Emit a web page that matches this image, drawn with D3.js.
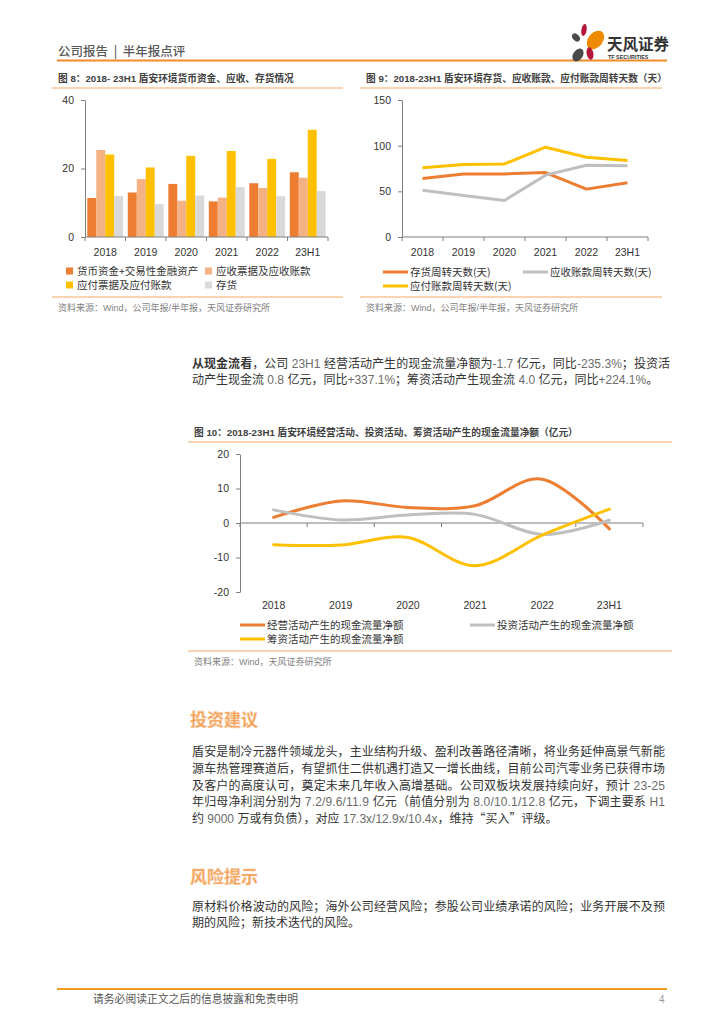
<!DOCTYPE html>
<html lang="zh">
<head>
<meta charset="UTF-8">
<title>盾安环境 半年报点评</title>
<script src="https://cdn.jsdelivr.net/npm/d3@7"></script>
<style>
  body { margin: 0; background: #fff; }
  svg { display: block; }
  text { font-family: "Liberation Sans", "Noto Sans CJK SC", sans-serif; }
  .cjk { font-family: "Noto Sans CJK SC", sans-serif; }
  .axis path, .axis line { stroke: #7f7f7f; }
  .axis text { font-family: "Liberation Sans", sans-serif; font-size: 10.5px; fill: #333; }
</style>
</head>
<body>
<script>
// ---- data ----
const years = ["2018", "2019", "2020", "2021", "2022", "23H1"];

// 图8 (亿元)
const cashFin = [11.4, 13.0, 15.5, 10.4, 15.7, 18.9];
const receivable = [25.4, 16.9, 10.6, 11.5, 14.3, 17.3];
const payable = [24.1, 20.3, 23.7, 25.1, 22.8, 31.3];
const inventory = [12.0, 9.6, 12.1, 14.6, 11.9, 13.4];
const barNames = ["货币资金+交易性金融资产", "应收票据及应收账款", "应付票据及应付账款", "存货"];
const barColors = ["#ED7D31", "#F4B183", "#FFC000", "#D9D9D9"];

// 图9 (天)
const invDays = [64.0, 69.0, 69.0, 70.6, 52.4, 59.3];
const recDays = [51.3, 45.5, 40.0, 67.7, 78.6, 78.0];
const payDays = [75.7, 79.4, 80.0, 98.3, 87.4, 83.7];
const dayNames = ["存货周转天数(天)", "应收账款周转天数(天)", "应付账款周转天数(天)"];

// 图10 (亿元)
const opCF = [1.65, 6.4, 4.5, 5.0, 12.7, -1.7];
const invCF = [3.8, 0.9, 2.3, 2.5, -3.3, 0.8];
const finCF = [-6.3, -6.4, -4.2, -12.4, -3.5, 4.0];
const cfNames = ["经营活动产生的现金流量净额", "投资活动产生的现金流量净额", "筹资活动产生的现金流量净额"];

const lineColors = ["#ED7D31", "#BFBFBF", "#FFC000"];

const para1 = [
  "从现金流看，公司 23H1 经营活动产生的现金流量净额为-1.7 亿元，同比-235.3%；投资活",
  "动产生现金流 0.8 亿元，同比+337.1%；筹资活动产生现金流 4.0 亿元，同比+224.1%。"
];
const para2 = [
  "盾安是制冷元器件领域龙头，主业结构升级、盈利改善路径清晰，将业务延伸高景气新能",
  "源车热管理赛道后，有望抓住二供机遇打造又一增长曲线，目前公司汽零业务已获得市场",
  "及客户的高度认可，奠定未来几年收入高增基础。公司双板块发展持续向好，预计 23-25",
  "年归母净利润分别为 7.2/9.6/11.9 亿元（前值分别为 8.0/10.1/12.8 亿元，下调主要系 H1",
  "约 9000 万或有负债），对应 17.3x/12.9x/10.4x，维持“买入”评级。"
];
const para3 = [
  "原材料价格波动的风险；海外公司经营风险；参股公司业绩承诺的风险；业务开展不及预",
  "期的风险；新技术迭代的风险。"
];

const svg = d3.select("body").append("svg")
  .attr("width", 724).attr("height", 1024);

// ---- page header ----
svg.append("text").attr("class", "cjk").attr("x", 58).attr("y", 56)
  .attr("font-size", 12.5).attr("fill", "#595959").attr("font-weight", 500)
  .attr("xml:space", "preserve").style("white-space", "pre")
  .text("公司报告  |  半年报点评");
svg.append("line").attr("x1", 57).attr("x2", 667).attr("y1", 60.5).attr("y2", 60.5)
  .attr("stroke", "#F28A2E").attr("stroke-width", 2);

// logo
const logo = svg.append("g");
logo.append("ellipse").attr("cx", 584).attr("cy", 30).attr("rx", 2.6).attr("ry", 6)
  .attr("fill", "#B5173B").attr("transform", "rotate(10,584,30)");
logo.append("ellipse").attr("cx", 576).attr("cy", 37.5).attr("rx", 3.2).attr("ry", 4.6)
  .attr("fill", "#4A4A4A").attr("transform", "rotate(-45,576,37.5)");
logo.append("ellipse").attr("cx", 595.5).attr("cy", 40).attr("rx", 7.2).attr("ry", 10.5)
  .attr("fill", "#F08A00").attr("transform", "rotate(40,595.5,40)");
logo.append("ellipse").attr("cx", 590).attr("cy", 53.5).attr("rx", 3.4).attr("ry", 6.4)
  .attr("fill", "#B5173B").attr("transform", "rotate(-10,590,53.5)");
logo.append("ellipse").attr("cx", 578).attr("cy", 55).attr("rx", 4.8).attr("ry", 7)
  .attr("fill", "#4A4A4A").attr("transform", "rotate(35,578,55)");
logo.append("text").attr("class", "cjk").attr("x", 607).attr("y", 50)
  .attr("font-size", 15.5).attr("font-weight", "bold").attr("fill", "#333")
  .text("天风证券");
logo.append("text").attr("x", 608).attr("y", 58.5)
  .attr("font-size", 5.4).attr("font-weight", "bold").attr("fill", "#333")
  .text("TF SECURITIES");

// ---- helpers ----
function chartFrame(x0, x1, titleY, sepY, srcSepY, title, source) {
  svg.append("text").attr("x", x0 + 6).attr("y", titleY)
    .attr("font-size", 9.7).attr("font-weight", "bold").attr("fill", "#404040")
    .text(title);
  [sepY, srcSepY].forEach(y => svg.append("line")
    .attr("x1", x0).attr("x2", x1).attr("y1", y).attr("y2", y)
    .attr("stroke", "#F6A865").attr("stroke-width", 1.2));
  svg.append("text").attr("x", x0 + 6).attr("y", srcSepY + 14)
    .attr("font-size", 9).attr("fill", "#7f7f7f").text(source);
}

function yAxis(scale, x, ticks) {
  svg.append("g").attr("class", "axis").attr("transform", `translate(${x},0)`)
    .call(d3.axisLeft(scale).tickValues(ticks).tickFormat(d => String(d))
      .tickSize(4).tickSizeOuter(0).tickPadding(7))
    .selectAll("text").attr("font-size", 10.5);
}

function xAxis(band, yLine, yLabel) {
  const r = band.range();
  const g = svg.append("g").attr("class", "axis");
  g.append("line").attr("x1", r[0]).attr("x2", r[1]).attr("y1", yLine).attr("y2", yLine);
  band.domain().map(d => band(d)).concat([r[1]]).forEach(px =>
    g.append("line").attr("x1", px).attr("x2", px).attr("y1", yLine).attr("y2", yLine + 4));
  band.domain().forEach(d =>
    g.append("text").attr("x", band(d) + band.bandwidth() / 2).attr("y", yLabel)
      .attr("text-anchor", "middle").attr("dy", "0.35em").text(d));
}

function lineLegend(items, positions) {
  items.forEach((name, i) => {
    const [x, y] = positions[i];
    svg.append("line").attr("x1", x).attr("x2", x + 25).attr("y1", y).attr("y2", y)
      .attr("stroke", lineColors[i]).attr("stroke-width", 3);
    svg.append("text").attr("class", "cjk").attr("x", x + 27).attr("y", y).attr("dy", "0.35em")
      .attr("font-size", 10.5).attr("fill", "#333").text(name);
  });
}

// ---- 图8 ----
chartFrame(52, 343, 82, 88, 297,
  "图 8：2018- 23H1 盾安环境货币资金、应收、存货情况",
  "资料来源：Wind，公司年报/半年报，天风证券研究所");

const x8 = d3.scaleBand().domain(years).range([85, 328]);
const x8sub = d3.scaleBand().domain(d3.range(4)).range([2.3, x8.bandwidth() - 2.3]);
const y8 = d3.scaleLinear().domain([0, 40]).range([237, 100]);
const barSeries = [cashFin, receivable, payable, inventory];

barSeries.forEach((vals, k) => {
  svg.append("g").selectAll("rect").data(vals).join("rect")
    .attr("x", (d, i) => x8(years[i]) + x8sub(k))
    .attr("width", x8sub.bandwidth())
    .attr("y", d => y8(d))
    .attr("height", d => y8(0) - y8(d))
    .attr("fill", barColors[k]);
});
yAxis(y8, 85, [0, 20, 40]);
xAxis(x8, 237, 252);

[[66, 271], [205, 271], [66, 285], [205, 285]].forEach(([x, y], i) => {
  svg.append("rect").attr("x", x).attr("y", y - 3.5).attr("width", 7).attr("height", 7)
    .attr("fill", barColors[i]);
  svg.append("text").attr("class", "cjk").attr("x", x + 11).attr("y", y).attr("dy", "0.35em")
    .attr("font-size", 10.5).attr("fill", "#333").text(barNames[i]);
});

// ---- 图9 ----
chartFrame(360, 662, 82, 88, 297,
  "图 9：2018-23H1 盾安环境存货、应收账款、应付账款周转天数（天）",
  "资料来源：Wind，公司年报/半年报，天风证券研究所");

const x9 = d3.scaleBand().domain(years).range([402, 648]);
const y9 = d3.scaleLinear().domain([0, 150]).range([237, 100]);
const line9 = d3.line()
  .x((d, i) => x9(years[i]) + x9.bandwidth() / 2)
  .y(d => y9(d));
[invDays, recDays, payDays].forEach((vals, k) => {
  svg.append("path").attr("d", line9(vals)).attr("fill", "none")
    .attr("stroke", lineColors[k]).attr("stroke-width", 3).attr("stroke-linejoin", "round");
});
yAxis(y9, 402, [0, 50, 100, 150]);
xAxis(x9, 237, 252);
lineLegend(dayNames, [[383, 272], [523, 272], [383, 286]]);

// ---- 正文 ----
function para(lines, x, y0, dy, right, boldLead) {
  lines.forEach((ln, i) => {
    const t = svg.append("text").attr("class", "cjk").attr("x", x).attr("y", y0 + i * dy)
      .attr("dy", "0.35em").attr("font-size", 12).attr("fill", "#333");
    let rest = ln;
    if (i === 0 && boldLead) {
      t.append("tspan").attr("font-weight", "bold").text(boldLead);
      rest = ln.slice(boldLead.length);
    }
    rest.split(/([\x20-\x7e]+)/).filter(s => s.length).forEach(s => {
      const sp = t.append("tspan").text(s);
      if (/^[\x20-\x7e]+$/.test(s)) sp.attr("fill", "#6b6b6b").style("font-family", "'Liberation Sans', sans-serif");
    });
    if (i < lines.length - 1) {
      const w = t.node().getComputedTextLength();
      const n = ln.length;
      t.attr("letter-spacing", ((right - x) - w) / (n - 1));
    }
  });
}

para(para1, 192, 364, 15.5, 670, "从现金流看");

// ---- 图10 ----
chartFrame(188, 672, 436, 442, 651,
  "图 10：2018-23H1 盾安环境经营活动、投资活动、筹资活动产生的现金流量净额（亿元）",
  "资料来源：Wind，天风证券研究所");

const x10 = d3.scaleBand().domain(years).range([240, 643]);
const y10 = d3.scaleLinear().domain([-20, 20]).range([592, 454]);
yAxis(y10, 240, [-20, -10, 0, 10, 20]);
xAxis(x10, y10(0), 605);
const line10 = d3.line()
  .x((d, i) => x10(years[i]) + x10.bandwidth() / 2)
  .y(d => y10(d))
  .curve(d3.curveCardinal.tension(0));
[opCF, invCF, finCF].forEach((vals, k) => {
  svg.append("path").attr("d", line10(vals)).attr("fill", "none")
    .attr("stroke", lineColors[k]).attr("stroke-width", 3).attr("stroke-linecap", "round");
});
lineLegend(cfNames, [[240, 625], [470, 625], [240, 639]]);

// ---- 投资建议 / 风险提示 ----
function heading(txt, y) {
  svg.append("text").attr("class", "cjk").attr("x", 190).attr("y", y).attr("dy", "0.35em")
    .attr("font-size", 17).attr("font-weight", "bold").attr("fill", "#F29A4E")
    .attr("stroke", "#FBD3AE").attr("stroke-width", 0.6).text(txt);
}
heading("投资建议", 720);
para(para2, 192, 752, 16.7, 665);
heading("风险提示", 877);
para(para3, 192, 907, 15.5, 665);

// ---- footer ----
svg.append("line").attr("x1", 57).attr("x2", 667).attr("y1", 989).attr("y2", 989)
  .attr("stroke", "#F29A1E").attr("stroke-width", 2);
svg.append("text").attr("class", "cjk").attr("x", 93).attr("y", 999).attr("dy", "0.35em")
  .attr("font-size", 10.8).attr("fill", "#555").text("请务必阅读正文之后的信息披露和免责申明");
svg.append("text").attr("x", 659).attr("y", 999).attr("dy", "0.35em")
  .attr("font-size", 10).attr("fill", "#999").text("4");
</script>
</body>
</html>
